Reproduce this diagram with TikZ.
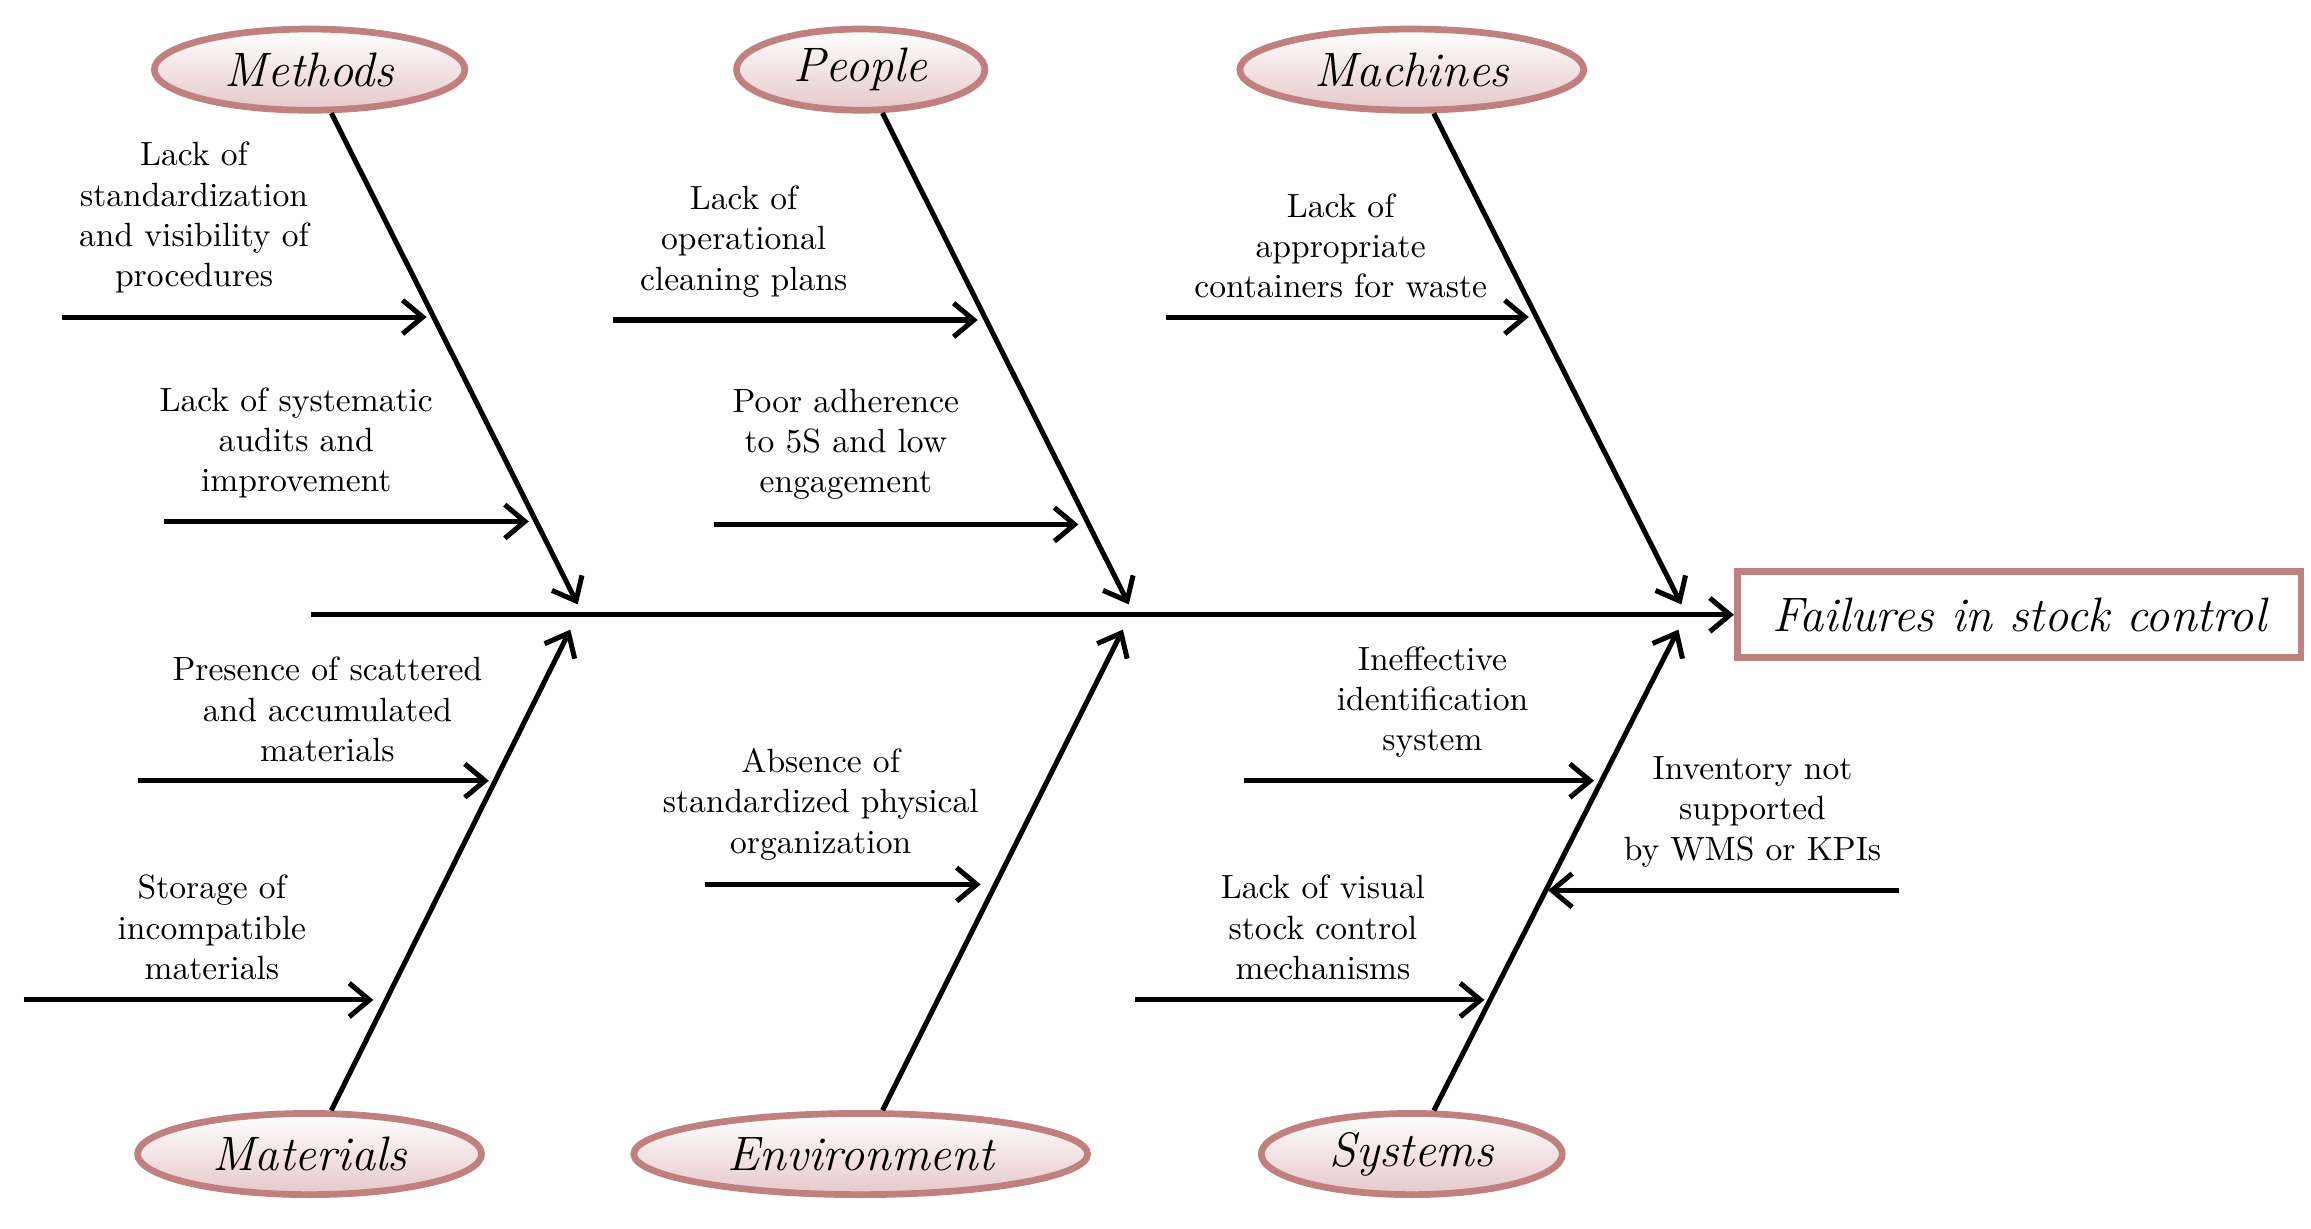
\documentclass[tikz,border=0pt]{standalone}
\usetikzlibrary{arrows.meta,shapes.geometric}
\definecolor{bord}{RGB}{192,128,128}
\definecolor{pinkf}{RGB}{230,200,202}
\begin{document}
\begin{tikzpicture}[x=0.0155cm,y=-0.0155cm,
  cat/.style={ellipse,draw=bord,line width=2pt,top color=white,bottom color=pinkf,font=\Large\itshape,inner sep=0pt},
  lbl/.style={align=center,font=\normalsize,inner sep=0pt},
  ar/.style={line width=1.5pt,-{Straight Barb[length=6pt,width=10pt,line width=1.5pt]}},
  br/.style={line width=1.5pt,-{Straight Barb[length=6pt,width=10pt,line width=1.5pt]}}]
\useasboundingbox (0,0) rectangle (1560,829);
\node[draw=bord,line width=2pt,fill=white,minimum width=385\pgflinewidth,font=\Large\itshape,inner sep=0pt,minimum width=5.9cm,minimum height=0.9cm] (eff) at (1363,415) {Failures in stock control};
\coordinate (s0) at (210,415);
\draw[br] (s0) -- (eff.west);
\node[cat,minimum width=3.25cm,minimum height=0.85cm] (m1) at (209,47) {Methods};
\node[cat,minimum width=2.6cm,minimum height=0.85cm] (m2) at (581,47) {People};
\node[cat,minimum width=3.6cm,minimum height=0.85cm] (m3) at (953,47) {Machines};
\node[cat,minimum width=3.6cm,minimum height=0.85cm] (m4) at (209,779) {Materials};
\node[cat,minimum width=4.75cm,minimum height=0.85cm] (m5) at (581,779) {Environment};
\node[cat,minimum width=3.15cm,minimum height=0.85cm] (m6) at (953,779) {Systems};
\coordinate (e1) at (390,408); \coordinate (e2) at (762,408); \coordinate (e3) at (1135,408);
\coordinate (e4) at (385,425); \coordinate (e5) at (758,425); \coordinate (e6) at (1133,425);
\draw[br] (m1) -- (e1); \draw[br] (m2) -- (e2); \draw[br] (m3) -- (e3);
\draw[br] (m4) -- (e4); \draw[br] (m5) -- (e5); \draw[br] (m6) -- (e6);
\foreach \a/\b/\c/\d/\n in {42/214/288/214/a,111/352/357/352/b,414/216/660/216/c,482/354/728/354/d,787/214/1032/214/e,93/527/330/527/f,16/675/252/675/g,476/597/662/597/h,840/527/1076/527/i,766/675/1002/675/j,1282/601/1045/601/k}{
  \coordinate (\n0) at (\a,\b); \coordinate (\n1) at (\c,\d);
  \draw[ar] (\n0) -- (\n1);}
\node[lbl] (ta) at (131,147) {Lack of\\standardization\\and visibility of\\procedures};
\node[lbl] (tb) at (200,299) {Lack of systematic\\audits and\\improvement};
\node[lbl] (tc) at (502,163) {Lack of\\operational\\cleaning plans};
\node[lbl] (td) at (571,300) {Poor adherence\\to 5S and low\\engagement};
\node[lbl] (te) at (905,166) {Lack of\\appropriate\\containers for waste};
\node[lbl] (tf) at (221,479) {Presence of scattered\\and accumulated\\materials};
\node[lbl] (tg) at (143,626) {Storage of\\incompatible\\materials};
\node[lbl] (th) at (554,543) {Absence of\\standardized physical\\organization};
\node[lbl] (ti) at (967,474) {Ineffective\\identification\\system};
\node[lbl] (tk) at (1183,548) {Inventory not\\supported\\by WMS or KPIs};
\node[lbl] (tj) at (893,626) {Lack of visual\\stock control\\mechanisms};
\end{tikzpicture}
\end{document}
